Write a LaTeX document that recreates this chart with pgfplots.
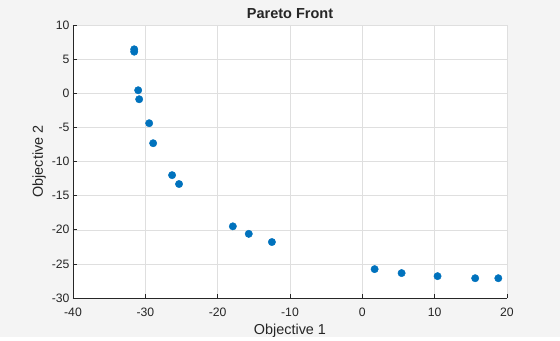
\documentclass[border=0pt]{standalone}
\usepackage{pgfplots}
\pgfplotsset{compat=1.18}
\usepackage{fontspec}
\setmainfont{Liberation Sans}
\definecolor{figbg}{HTML}{F4F4F4}
\definecolor{mblue}{HTML}{0072BD}
\definecolor{axcol}{HTML}{262626}
\definecolor{gridc}{HTML}{DFDFDF}
\begin{document}
\begin{tikzpicture}
\fill[figbg] (-73pt,-39pt) rectangle (487pt,298pt);
\begin{axis}[
  at={(0pt,0pt)}, anchor=south west,
  scale only axis, width=434pt, height=273pt,
  xmin=-40, xmax=20, ymin=-30, ymax=10,
  xtick={-40,-30,...,20}, ytick={-30,-25,...,10},
  axis x line*=bottom, axis y line*=left,
  axis line style={axcol, line width=0.6pt},
  axis background/.style={fill=white},
  grid=major, major grid style={gridc, line width=0.5pt},
  tick style={axcol, line width=0.6pt}, tickwidth=4pt, tick align=inside,
  ticklabel style={font=\fontsize{12.2}{14}\selectfont, text=axcol},
  xticklabel style={yshift=-6pt},
  /pgf/number format/assume math mode=true,
  xlabel={Objective 1}, ylabel={Objective 2},
  label style={font=\fontsize{14.4}{16}\selectfont, text=axcol},
  xlabel style={yshift=-1pt},
  ylabel style={yshift=-1pt},
  title={\textbf{Pareto Front}},
  title style={font=\fontsize{14.5}{16}\selectfont, text=axcol, yshift=-3.5pt},
  clip=false,
]
\addplot[only marks, mark=*, mark size=3.7pt, mblue, mark options={fill=mblue, draw=mblue}] coordinates {
(-31.54,6.44) (-31.54,6.09) (-30.99,0.44) (-30.85,-0.88) (-29.47,-4.39)
(-28.92,-7.32) (-26.3,-12.0) (-25.34,-13.3) (-17.9,-19.5) (-15.7,-20.6)
(-12.5,-21.8) (1.7,-25.77) (5.43,-26.35) (10.4,-26.8) (15.6,-27.1) (18.8,-27.1)
};
\end{axis}
\end{tikzpicture}
\end{document}
